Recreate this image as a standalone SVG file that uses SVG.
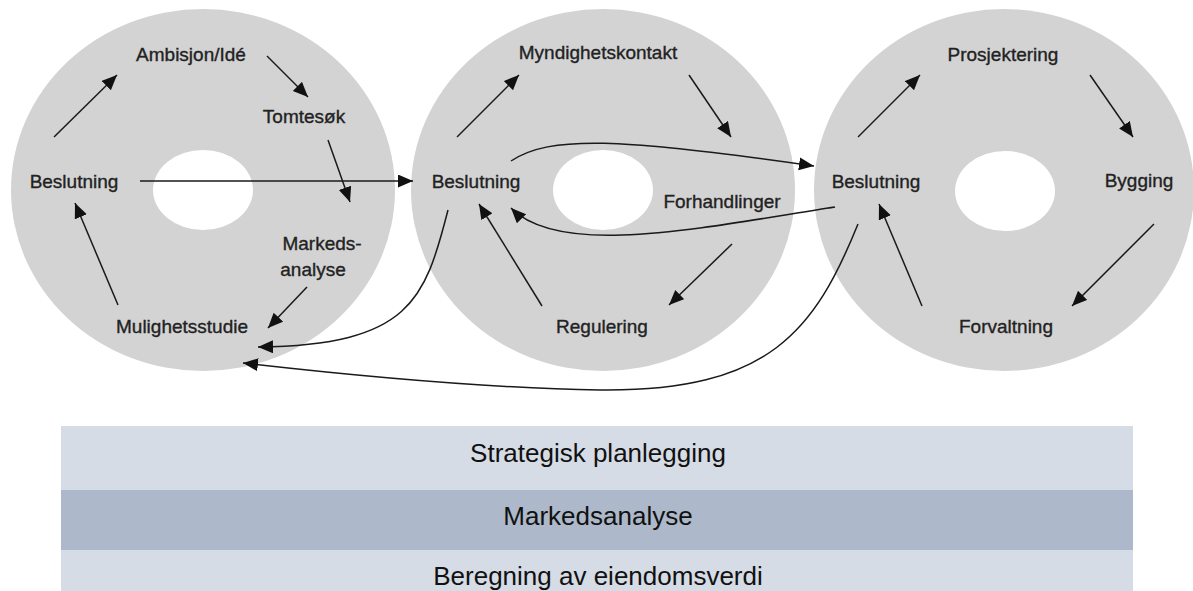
<svg xmlns="http://www.w3.org/2000/svg" width="1193" height="591" viewBox="0 0 1193 591">
<style>
.disc{fill:#d3d3d3}
.hole{fill:#ffffff}
.lbl{font-family:"Liberation Sans",Arial,sans-serif;font-size:19px;fill:#222;stroke:#222;stroke-width:0.35;text-anchor:middle}
.band{font-family:"Liberation Sans",Arial,sans-serif;font-size:26px;fill:#111;text-anchor:middle}
.conn{fill:none;stroke:#1a1a1a;stroke-width:1.5;marker-end:url(#ah)}
</style>
<defs>
<marker id="ah" markerUnits="userSpaceOnUse" markerWidth="16" markerHeight="14" refX="15" refY="6.5" orient="auto">
<path d="M0,0 L15,6.5 L0,13 Z" fill="#111"/>
</marker>
</defs>
<rect width="1193" height="591" fill="#ffffff"/>
<g id="circle-left">
<ellipse class="disc" cx="203" cy="190" rx="192" ry="181"/>
<ellipse class="hole" cx="203" cy="190" rx="50" ry="40"/>
</g>
<g id="circle-middle">
<ellipse class="disc" cx="603" cy="190" rx="192" ry="181"/>
<ellipse class="hole" cx="603" cy="190" rx="50" ry="40"/>
</g>
<g id="circle-right">
<ellipse class="disc" cx="1004" cy="190" rx="190" ry="181"/>
<ellipse class="hole" cx="1005" cy="191" rx="50" ry="40"/>
</g>
<g id="n-ambisjon"><text class="lbl" x="191" y="61">Ambisjon/Idé</text></g>
<g id="n-tomtesok"><text class="lbl" x="304" y="123">Tomtesøk</text></g>
<g id="n-beslutning1"><text class="lbl" x="74" y="188">Beslutning</text></g>
<g id="n-markedsanalyse"><text class="lbl" x="322" y="250">Markeds-</text><text class="lbl" x="313" y="276">analyse</text></g>
<g id="n-mulighetsstudie"><text class="lbl" x="182" y="333">Mulighetsstudie</text></g>
<g id="n-myndighet"><text class="lbl" x="598" y="59">Myndighetskontakt</text></g>
<g id="n-beslutning2"><text class="lbl" x="476" y="188">Beslutning</text></g>
<g id="n-forhandlinger"><text class="lbl" x="722" y="208">Forhandlinger</text></g>
<g id="n-regulering"><text class="lbl" x="602" y="333">Regulering</text></g>
<g id="n-prosjektering"><text class="lbl" x="1003" y="61">Prosjektering</text></g>
<g id="n-beslutning3"><text class="lbl" x="876" y="188">Beslutning</text></g>
<g id="n-bygging"><text class="lbl" x="1139" y="187">Bygging</text></g>
<g id="n-forvaltning"><text class="lbl" x="1006" y="333">Forvaltning</text></g>
<g id="connectors">
<line class="conn" x1="54" y1="137" x2="117" y2="75"/>
<line class="conn" x1="267" y1="56" x2="308" y2="97"/>
<line class="conn" x1="328" y1="140" x2="350" y2="202"/>
<line class="conn" x1="307" y1="287" x2="268" y2="328"/>
<line class="conn" x1="118" y1="305" x2="75" y2="203"/>
<line class="conn" x1="140" y1="181" x2="413" y2="181"/>
<line class="conn" x1="457" y1="137" x2="519" y2="75"/>
<line class="conn" x1="689" y1="75" x2="731" y2="137"/>
<line class="conn" x1="732" y1="244" x2="669" y2="305"/>
<line class="conn" x1="542" y1="306" x2="479" y2="204"/>
<path class="conn" d="M511,161 C550,135 620,138 814,166"/>
<path class="conn" d="M835,207 C700,228 560,258 511,208"/>
<path class="conn" d="M448,210 C425,300 410,345 258,347"/>
<path class="conn" d="M858,224 C815,330 770,392 600,390 C480,388 330,373 243,363"/>
<line class="conn" x1="858" y1="137" x2="920" y2="75"/>
<line class="conn" x1="1090" y1="75" x2="1133" y2="137"/>
<line class="conn" x1="1154" y1="224" x2="1072" y2="306"/>
<line class="conn" x1="922" y1="306" x2="879" y2="204"/>
</g>
<g id="band-strategisk">
<rect x="61" y="426" width="1072" height="64" fill="#d6dce5"/>
<text class="band" x="598" y="462">Strategisk planlegging</text>
</g>
<g id="band-markedsanalyse">
<rect x="61" y="490" width="1072" height="60" fill="#adb9ca"/>
<text class="band" x="598" y="525">Markedsanalyse</text>
</g>
<g id="band-beregning">
<rect x="61" y="550" width="1072" height="41" fill="#d6dce5"/>
<text class="band" x="598" y="585">Beregning av eiendomsverdi</text>
</g>
</svg>
